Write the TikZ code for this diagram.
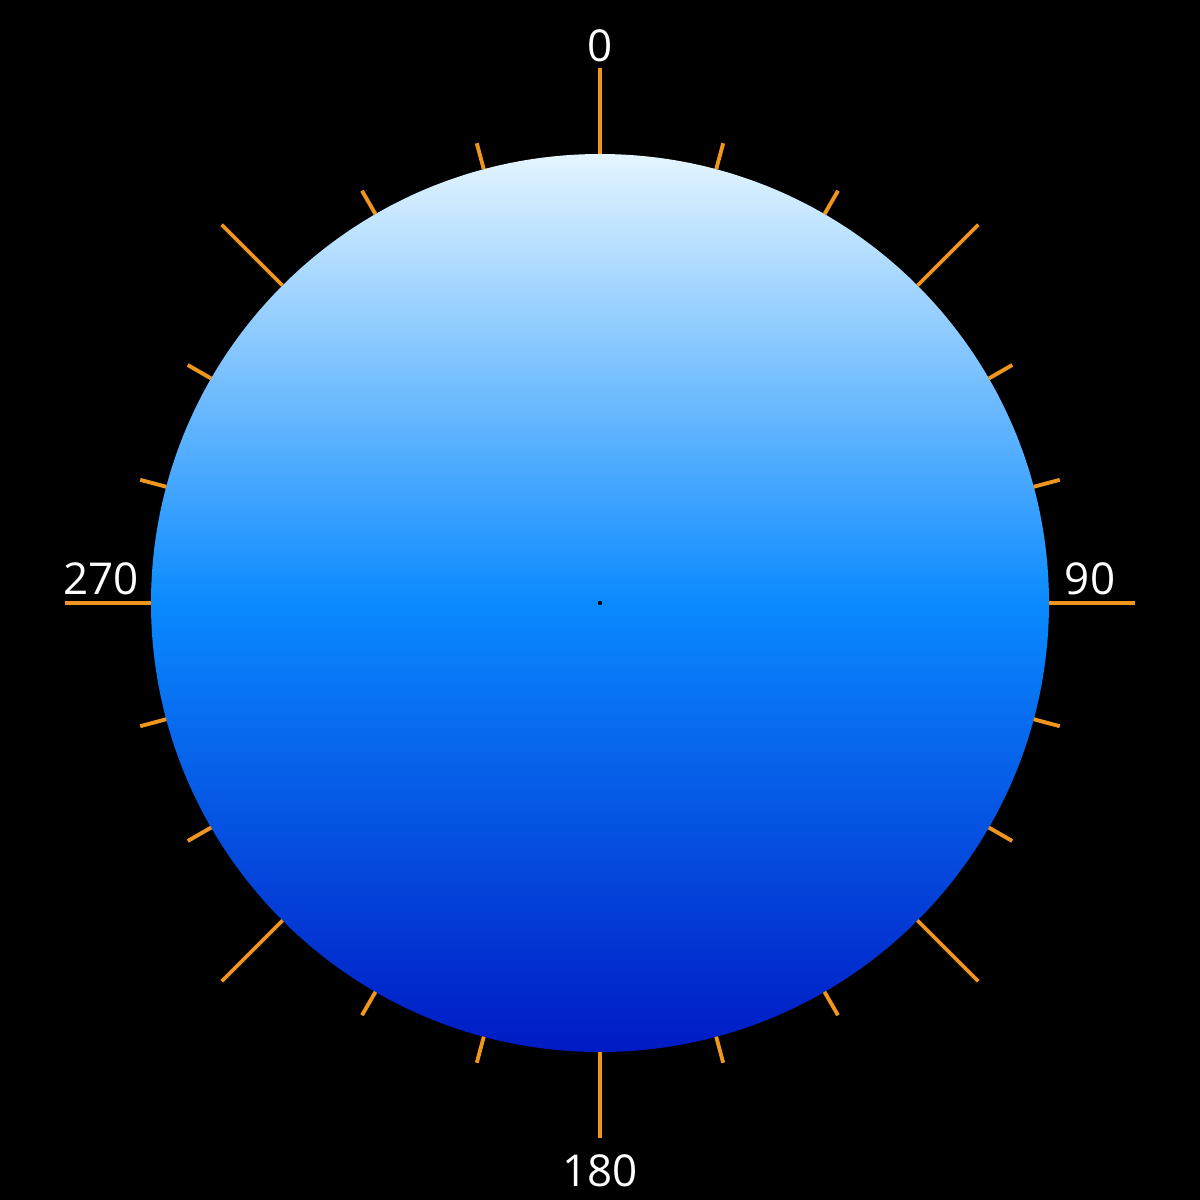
\documentclass[tikz,border=0pt]{standalone}
\usepackage{fontspec}
\setmainfont{Open Sans}
\usetikzlibrary{positioning,calc}
\definecolor{DialTop}{RGB}{228,245,255}
\definecolor{DialMid}{RGB}{10,138,255}
\definecolor{DialLow}{RGB}{0,26,196}
\definecolor{TickOrange}{RGB}{240,150,30}
\tikzset{
	tick/.style={draw=TickOrange,line width=1.1pt},
	deg/.style={text=white,font=\fontsize{12.5}{14}\selectfont,inner sep=0pt},
}
\begin{document}
\begin{tikzpicture}
			\fill[black] (-6,-5.97) rectangle (6,6.03);
			\useasboundingbox (-6,-5.97) rectangle (6,6.03);
			\coordinate (c) at (0,0);
			\shade[top color=DialTop,bottom color=DialLow,middle color=DialMid] (c) circle (4.49);
			% short ticks every 15 degrees, long ones every 45
			\foreach \a in {15,30,60,75,105,120,150,165,195,210,240,255,285,300,330,345}
			\draw[tick] ($(c)+(90-\a:4.49)$) -- ($(c)+(90-\a:4.76)$);
			\foreach \a in {0,45,...,315}
			\draw[tick] ($(c)+(90-\a:4.49)$) -- ($(c)+(90-\a:5.35)$);
			\fill[black] (c) circle (0.022);
			\node[deg] (n0) at (0,5.57) {0};
			\node[deg] (n90) at (4.9,0.24) {90};
			\node[deg] (n180) at (0,-5.68) {180};
			\node[deg] (n270) at (-4.99,0.24) {270};
		\end{tikzpicture}
\end{document}
